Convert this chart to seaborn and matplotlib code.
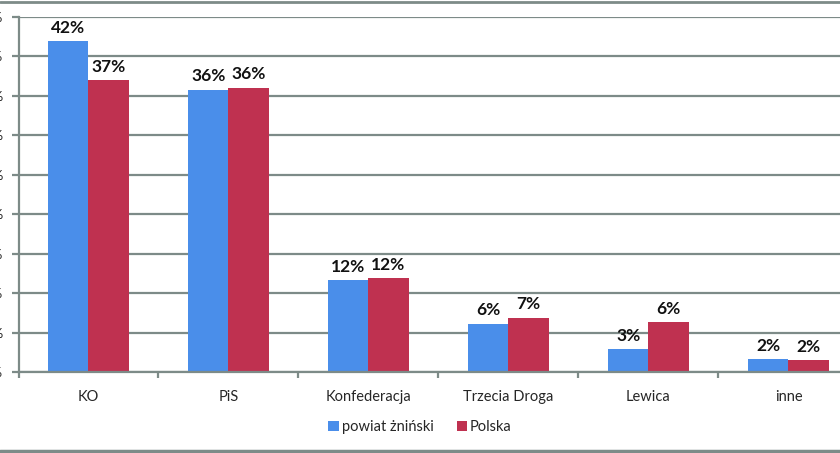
import numpy as np
import pandas as pd
import matplotlib
matplotlib.use("Agg")
import matplotlib.pyplot as plt
from matplotlib.lines import Line2D
import seaborn as sns

# Dane
partie = ["KO", "PiS", "Konfederacja", "Trzecia Droga", "Lewica", "inne"]
powiat = [41.9, 35.8, 11.6, 6.1, 2.9, 1.6]
polska = [37.0, 36.0, 11.9, 6.9, 6.3, 1.5]
serie = ["powiat żniński", "Polska"]
kolory = ["#4A8EEA", "#BF3150"]
y_ticks = [0, 5, 10, 15, 20, 25, 30, 35, 40, 45]

df = pd.DataFrame({
    "partia": partie * 2,
    "wynik": powiat + polska,
    "seria": [serie[0]] * len(partie) + [serie[1]] * len(partie),
})

sns.set_style("white")
plt.rcParams["font.family"] = ["Lato", "DejaVu Sans"]

grid_col = "#7D8B88"

fig = plt.figure(figsize=(8.4, 4.53), dpi=100)
ax = fig.add_axes([18.5 / 840, 81 / 453, 840 / 840, 355 / 453])

sns.barplot(data=df, x="partia", y="wynik", hue="seria", palette=kolory,
            width=0.572, ax=ax, saturation=1, legend=True, linewidth=0)

for cont in ax.containers:
    ax.bar_label(cont, labels=[f"{v:.0f}%" for v in cont.datavalues],
                 padding=4, fontsize=12.5, fontweight="bold", color="#111111")

ax.set_ylim(0, 45)
ax.set_xlim(-0.5, 5.5)
ax.set_yticks(y_ticks)
ax.set_yticklabels([f"{t}%" for t in y_ticks], fontsize=10)
ax.yaxis.grid(True, color=grid_col, linewidth=1.6)
ax.set_axisbelow(True)
ax.set_xlabel("")
ax.set_ylabel("")

for s in ["top", "right"]:
    ax.spines[s].set_visible(False)
for s in ["left", "bottom"]:
    ax.spines[s].set_color(grid_col)
    ax.spines[s].set_linewidth(1.6)

ax.tick_params(axis="y", length=5, width=1.6, color=grid_col, pad=6, left=True)
ax.tick_params(axis="x", which="major", length=0, pad=13, labelsize=10.5)
ax.set_xticks(np.arange(-0.5, 6, 1), minor=True)
ax.tick_params(axis="x", which="minor", length=4, width=1.6, color=grid_col, bottom=True)

ax.legend(loc="center", bbox_to_anchor=(420 / 840, (453 - 427) / 453),
          bbox_transform=fig.transFigure, ncol=2, frameon=False,
          handlelength=0.7, handleheight=0.7, handletextpad=0.2,
          columnspacing=1.6, fontsize=10.5)

# ramka wykresu (góra i dół)
fig.add_artist(Line2D([0, 1], [1 - 1.5 / 453, 1 - 1.5 / 453],
                      transform=fig.transFigure, color=grid_col, linewidth=2))
fig.add_artist(Line2D([0, 1], [2 / 453, 2 / 453],
                      transform=fig.transFigure, color=grid_col, linewidth=2.5))

fig.savefig("out.png", dpi=100)
